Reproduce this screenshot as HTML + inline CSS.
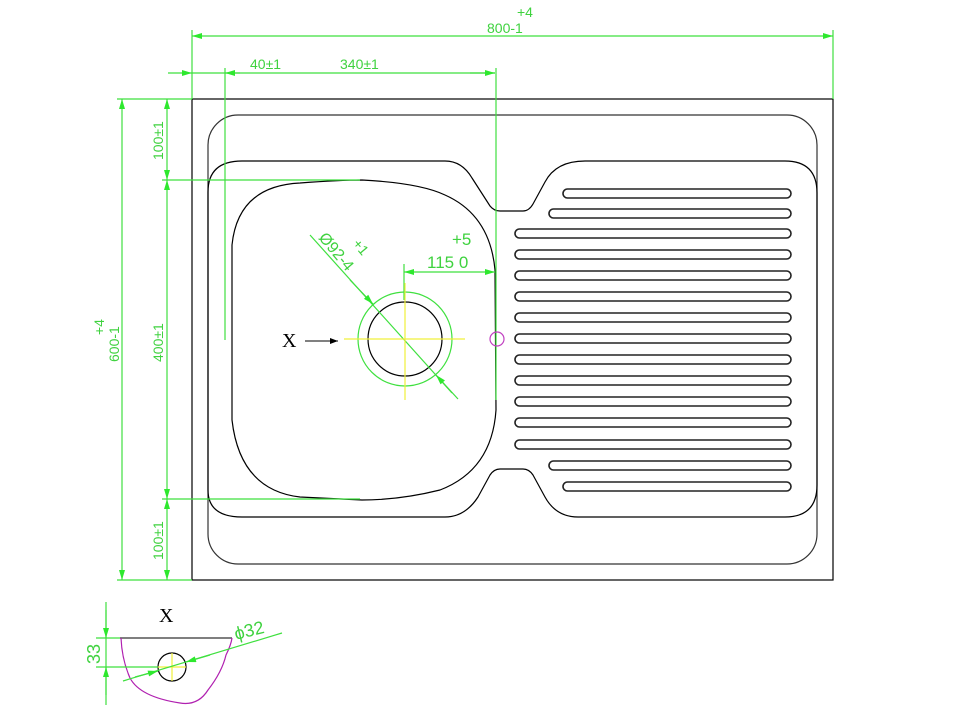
<!DOCTYPE html>
<html><head><meta charset="utf-8"><style>
html,body{margin:0;padding:0;background:#fff;width:970px;height:706px;overflow:hidden}
svg{display:block}
text{font-family:"Liberation Sans",sans-serif;fill:#3fd23f}
</style></head><body>
<svg width="970" height="706" viewBox="0 0 970 706" xmlns="http://www.w3.org/2000/svg">
<defs>
<marker id="a" viewBox="0 0 10 6" refX="10" refY="3" markerWidth="14" markerHeight="6" markerUnits="userSpaceOnUse" orient="auto-start-reverse"><path d="M0,0 L10,3 L0,6z" fill="#2ee82e"/></marker>
</defs>
<g fill="none" stroke="#000" stroke-width="1.2">
<rect x="192" y="99" width="641" height="481"/>
<rect x="208" y="115" width="609" height="449" rx="30" stroke="#333"/>
<path d="M208,192 Q208,161 242,161 L445,161 Q462,161 472,178 L490,206 Q494,211 500,211 L523,211 Q529,211 533,204 L545,182 Q556,161 585,161 L785,161 Q817,161 817,193 L817,485 Q817,517 785,517 L578,517 Q556,517 545,497 L533,475 Q529,469 523,469 L500,469 Q494,469 490,475 L478,497 Q465,517 445,517 L242,517 Q208,517 208,490 Z"/>
<path d="M232,245 Q238,186 300,183 Q340,180 362,180 Q420,183 445,195 Q490,215 495,270 L496,410 Q492,470 440,490 Q400,500 362,500 L300,497 Q240,490 232,420 Z"/>
<circle cx="405" cy="339" r="37"/>
</g>
<g fill="none" stroke="#222" stroke-width="1.6">
<rect x="563" y="189" width="228" height="9" rx="4.5"/>
<rect x="549" y="209" width="242" height="9" rx="4.5"/>
<rect x="515" y="229" width="276" height="9" rx="4.5"/>
<rect x="515" y="250" width="276" height="9" rx="4.5"/>
<rect x="515" y="271" width="276" height="9" rx="4.5"/>
<rect x="515" y="292" width="276" height="9" rx="4.5"/>
<rect x="515" y="313" width="276" height="9" rx="4.5"/>
<rect x="515" y="334" width="276" height="9" rx="4.5"/>
<rect x="515" y="355" width="276" height="9" rx="4.5"/>
<rect x="515" y="376" width="276" height="9" rx="4.5"/>
<rect x="515" y="397" width="276" height="9" rx="4.5"/>
<rect x="515" y="418" width="276" height="9" rx="4.5"/>
<rect x="515" y="440" width="276" height="9" rx="4.5"/>
<rect x="549" y="461" width="242" height="9" rx="4.5"/>
<rect x="563" y="482" width="228" height="9" rx="4.5"/>
</g>
<g stroke="#3fe03f" stroke-width="1.2" fill="none">
<line x1="192" y1="30" x2="192" y2="99"/><line x1="833" y1="30" x2="833" y2="99"/>
<line x1="192" y1="36" x2="833" y2="36" marker-start="url(#a)" marker-end="url(#a)"/>
<line x1="225" y1="68" x2="225" y2="340"/>
<line x1="496" y1="68" x2="496" y2="400"/>
<line x1="168" y1="73" x2="192" y2="73" marker-end="url(#a)"/>
<line x1="192" y1="73" x2="495" y2="73"/>
<line x1="225" y1="73" x2="240" y2="73" marker-start="url(#a)"/>
<line x1="470" y1="73" x2="495" y2="73" marker-end="url(#a)"/>
<line x1="117" y1="99" x2="192" y2="99"/><line x1="117" y1="580" x2="192" y2="580"/>
<line x1="122" y1="99" x2="122" y2="580" marker-start="url(#a)" marker-end="url(#a)"/>
<line x1="162" y1="180" x2="360" y2="180"/><line x1="162" y1="499" x2="360" y2="499"/>
<line x1="167" y1="99" x2="167" y2="180" marker-start="url(#a)" marker-end="url(#a)"/>
<line x1="167" y1="180" x2="167" y2="499" marker-start="url(#a)" marker-end="url(#a)"/>
<line x1="167" y1="499" x2="167" y2="580" marker-start="url(#a)" marker-end="url(#a)"/>
<line x1="404" y1="264" x2="404" y2="300"/>
<line x1="404" y1="272" x2="495" y2="272" marker-start="url(#a)" marker-end="url(#a)"/>
<circle cx="405" cy="339" r="47"/>
<line x1="310" y1="235" x2="452" y2="393"/>
<line x1="350" y1="280" x2="373" y2="304" marker-end="url(#a)"/>
<line x1="458" y1="399" x2="436" y2="375" marker-end="url(#a)"/>
</g>
<g stroke="#f0f03a" stroke-width="1.2">
<line x1="344" y1="339" x2="465" y2="339"/><line x1="405" y1="283" x2="405" y2="400"/>
</g>
<circle cx="497" cy="339" r="7" fill="none" stroke="#c040c0" stroke-width="1.2"/>
<g font-size="14">
<text x="487" y="33">800-1</text><text x="517" y="17">+4</text>
<text x="250" y="69">40±1</text><text x="340" y="69">340±1</text>
<text x="427" y="268" font-size="17">115 0</text><text x="452" y="245" font-size="17">+5</text>
<text transform="translate(119,362) rotate(-90)">600-1</text>
<text transform="translate(104,335) rotate(-90)">+4</text>
<text transform="translate(163,160) rotate(-90)">100±1</text>
<text transform="translate(163,362) rotate(-90)">400±1</text>
<text transform="translate(163,560) rotate(-90)">100±1</text>
<text transform="translate(318,238) rotate(50)" font-size="16">Ø92-4</text>
<text transform="translate(352,244) rotate(50)" font-size="14">+1</text>
</g>
<text x="282" y="347" style="font-family:'Liberation Serif',serif;fill:#000" font-size="20">X</text>
<line x1="305" y1="341" x2="338" y2="341" stroke="#000" stroke-width="1"/>
<path d="M338,341 l-8,-3 v6z" fill="#000"/>
<text x="159" y="622" style="font-family:'Liberation Serif',serif;fill:#000" font-size="20">X</text>
<line x1="120" y1="638" x2="232" y2="638" stroke="#555" stroke-width="1.5"/>
<path d="M121,638 Q122,660 130,678 Q140,697 180,703 Q198,706 208,690 Q222,672 226,655 Q231,645 232,638" fill="none" stroke="#b020b0" stroke-width="1.2"/>
<circle cx="172" cy="667" r="14" fill="none" stroke="#000" stroke-width="1.2"/>
<g stroke="#f0f03a" stroke-width="1.2"><line x1="158" y1="667" x2="186" y2="667"/><line x1="172" y1="653" x2="172" y2="681"/></g>
<g stroke="#3fe03f" stroke-width="1.2" fill="none">
<line x1="106" y1="602" x2="106" y2="705"/>
<line x1="96" y1="638" x2="120" y2="638"/><line x1="96" y1="667" x2="158" y2="667"/>
<line x1="106" y1="610" x2="106" y2="638" marker-end="url(#a)"/>
<line x1="106" y1="695" x2="106" y2="667" marker-end="url(#a)"/>
<line x1="123" y1="681" x2="282" y2="633"/>
<line x1="135" y1="677" x2="158" y2="671" marker-end="url(#a)"/>
<line x1="210" y1="655" x2="186" y2="662" marker-end="url(#a)"/>
</g>
<text x="236" y="640" font-size="18" transform="rotate(-14 236 640)">ϕ32</text>
<text transform="translate(100,664) rotate(-90)" font-size="18">33</text>
</svg>
</body></html>
